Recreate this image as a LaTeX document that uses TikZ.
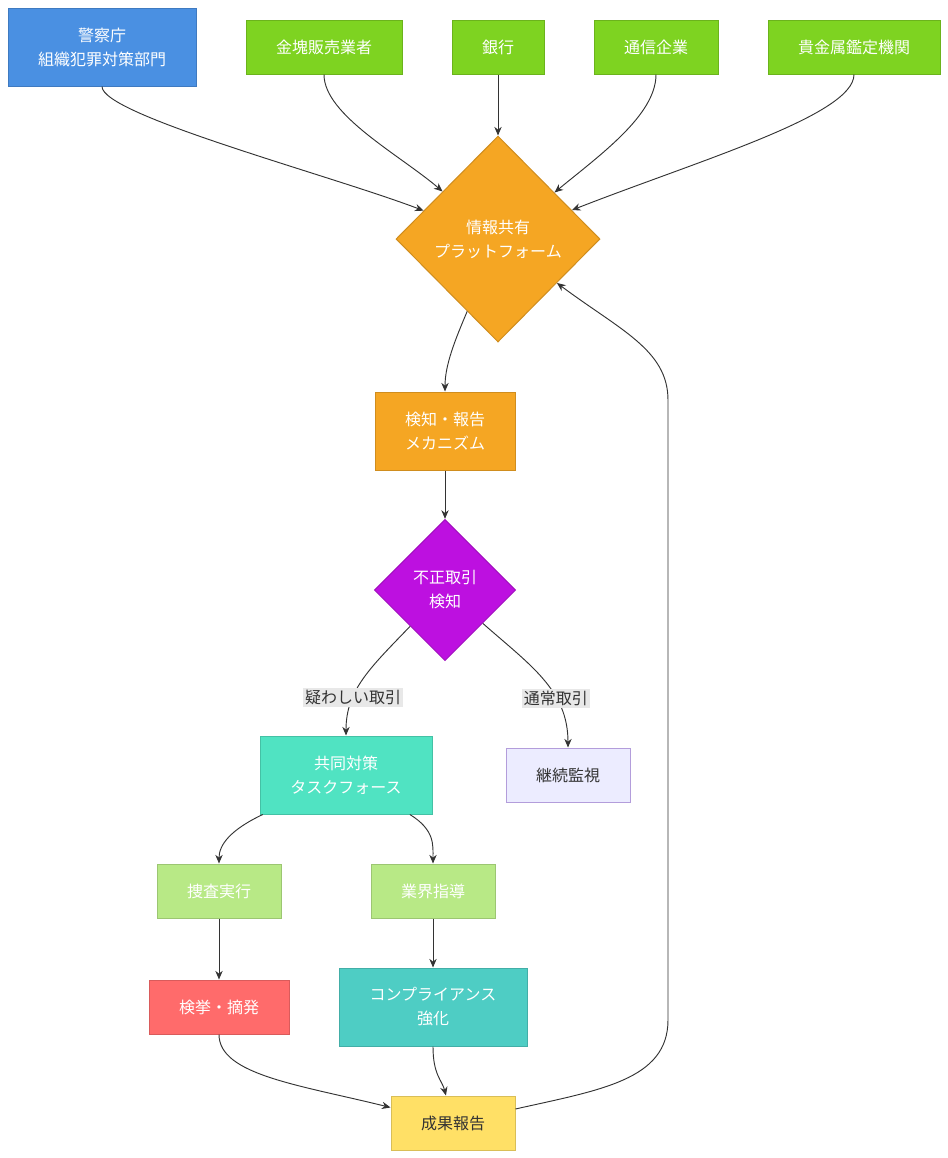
\documentclass[tikz,border=0pt]{standalone}
\usepackage{fontspec}
\setmainfont{Noto Sans CJK JP}
\usetikzlibrary{arrows.meta, shapes.geometric}

\definecolor{cblue}{HTML}{4A90E2}
\definecolor{cgreen}{HTML}{7ED321}
\definecolor{corange}{HTML}{F5A623}
\definecolor{cpurple}{HTML}{BD10E0}
\definecolor{cteal}{HTML}{50E3C2}
\definecolor{clav}{HTML}{ECECFF}
\definecolor{clavline}{HTML}{B39DDB}
\definecolor{clight}{HTML}{B8E986}
\definecolor{cred}{HTML}{FF6B6B}
\definecolor{ccyan}{HTML}{4ECDC4}
\definecolor{cyellow}{HTML}{FFE066}
\definecolor{cline}{HTML}{333333}

\tikzset{
  box/.style={rectangle, draw=#1!85!black, fill=#1, text=white, align=center,
    inner sep=0pt, line width=0.75pt},
  decision/.style={diamond, draw=#1!85!black, fill=#1, text=white, align=center,
    inner sep=0pt, line width=0.75pt},
  flow/.style={draw=cline, line width=0.7pt, -{Stealth[length=6.5pt,width=5.5pt]}},
  lbl/.style={fill=black!9, text=cline, inner sep=1.5pt}
}

\begin{document}
\begin{tikzpicture}[x=0.75pt, y=-0.75pt, font=\fontsize{12}{18}\selectfont]
  \useasboundingbox (0,0) rectangle (948,1158);

  % sources
  \node[box=cblue, minimum width=141pt, minimum height=58.5pt] (police) at (102,47) {警察庁\\組織犯罪対策部門};
  \node[box=cgreen, minimum width=117pt, minimum height=40.5pt] (goldshop) at (324,47) {金塊販売業者};
  \node[box=cgreen, minimum width=69pt, minimum height=40.5pt] (bank) at (498,47) {銀行};
  \node[box=cgreen, minimum width=93pt, minimum height=40.5pt] (telecom) at (656,47) {通信企業};
  \node[box=cgreen, minimum width=129pt, minimum height=40.5pt] (appraiser) at (854,47) {貴金属鑑定機関};

  % platform and detection
  \node[decision=corange, minimum width=153pt, minimum height=154.5pt] (platform) at (498,239) {情報共有\\プラットフォーム};
  \node[box=corange, minimum width=105pt, minimum height=58.5pt] (detect) at (445,431) {検知・報告\\メカニズム};
  \node[decision=cpurple, minimum width=106pt, minimum height=106pt] (fraud) at (445,590) {不正取引\\検知};

  % responses
  \node[box=cteal, minimum width=129pt, minimum height=58.5pt] (taskforce) at (346,775) {共同対策\\タスクフォース};
  \node[box=clav, draw=clavline, text=cline, minimum width=93pt, minimum height=40.5pt] (monitor) at (568,775) {継続監視};
  \node[box=clight, minimum width=93pt, minimum height=40.5pt] (invest) at (219,891) {捜査実行};
  \node[box=clight, minimum width=93pt, minimum height=40.5pt] (guidance) at (433,891) {業界指導};
  \node[box=cred, minimum width=105pt, minimum height=40.5pt] (arrest) at (219,1007) {検挙・摘発};
  \node[box=ccyan, minimum width=141pt, minimum height=58.5pt] (compliance) at (433,1007) {コンプライアンス\\強化};
  \node[box=cyellow, text=cline, minimum width=93pt, minimum height=40.5pt] (report) at (453,1123) {成果報告};

  % connectors
  \draw[flow] (police.south) .. controls (102,115) and (330,175) .. (platform);
  \draw[flow] (goldshop.south) .. controls (324,115) and (400,155) .. (platform);
  \draw[flow] (bank) -- (platform);
  \draw[flow] (telecom.south) .. controls (656,115) and (600,155) .. (platform);
  \draw[flow] (appraiser.south) .. controls (854,115) and (700,160) .. (platform);
  \draw[flow] (platform) .. controls (455,340) and (445,365) .. (detect.north);
  \draw[flow] (detect) -- (fraud);
  \draw[flow] (fraud) .. controls (370,668) and (346,690) .. node[lbl, pos=0.68] {疑わしい取引} (taskforce.north);
  \draw[flow] (fraud) .. controls (530,665) and (568,690) .. node[lbl, pos=0.66] {通常取引} (monitor.north);
  \draw[flow] (taskforce) .. controls (230,830) and (219,845) .. (invest.north);
  \draw[flow] (taskforce) .. controls (435,830) and (433,845) .. (guidance.north);
  \draw[flow] (invest) -- (arrest);
  \draw[flow] (guidance) -- (compliance);
  \draw[flow] (arrest.south) .. controls (219,1075) and (300,1085) .. (report);
  \draw[flow] (compliance.south) .. controls (433,1075) and (442,1080) .. (report);
  \draw[flow] (report) .. controls (600,1090) and (668,1080) .. (668,1020)
    -- (668,400) .. controls (668,350) and (620,330) .. (platform);
\end{tikzpicture}
\end{document}
